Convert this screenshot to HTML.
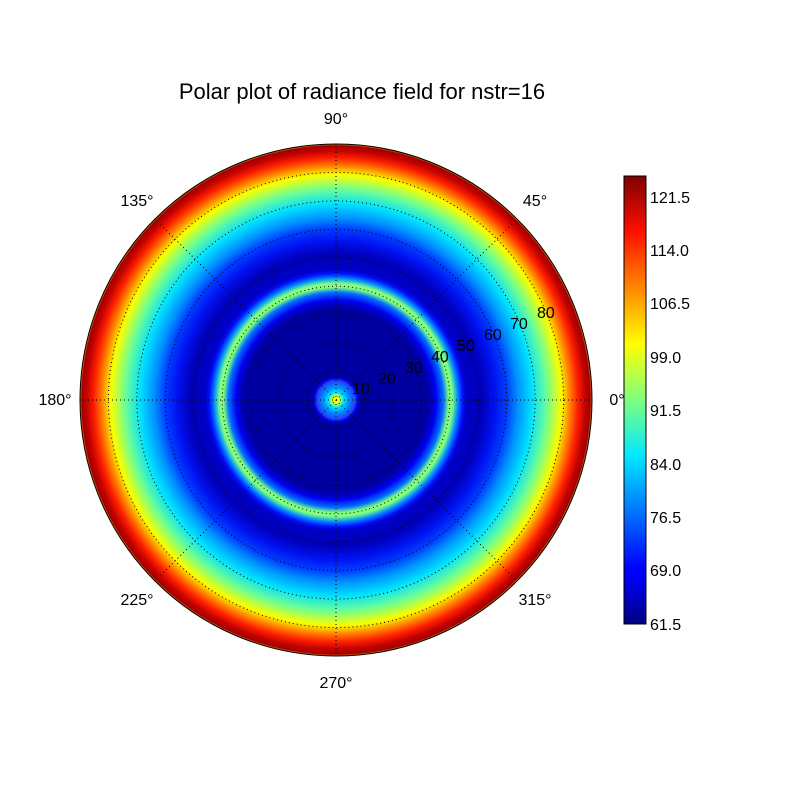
<!DOCTYPE html>
<html><head><style>body{margin:0;background:#fff}svg text{font-family:"Liberation Sans","DejaVu Sans",sans-serif}</style></head>
<body>
<svg width="800" height="800" viewBox="0 0 800 800" xmlns="http://www.w3.org/2000/svg">
<defs>
<radialGradient id="rg" cx="336" cy="400" r="256" gradientUnits="userSpaceOnUse">
<stop offset="0" stop-color="#ffff00"/>
<stop offset="0.012" stop-color="#f0ff10"/>
<stop offset="0.022" stop-color="#60ff90"/>
<stop offset="0.03" stop-color="#00e0ff"/>
<stop offset="0.05" stop-color="#0090ff"/>
<stop offset="0.075" stop-color="#2040ff"/>
<stop offset="0.085" stop-color="#0000e0"/>
<stop offset="0.095" stop-color="#0000a0"/>
<stop offset="0.36" stop-color="#0000a0"/>
<stop offset="0.39" stop-color="#0000f0"/>
<stop offset="0.42" stop-color="#0070ff"/>
<stop offset="0.44" stop-color="#80ff80"/>
<stop offset="0.455" stop-color="#80ff80"/>
<stop offset="0.475" stop-color="#0090ff"/>
<stop offset="0.495" stop-color="#0010ff"/>
<stop offset="0.51" stop-color="#0000c8"/>
<stop offset="0.57" stop-color="#0000b8"/>
<stop offset="0.62" stop-color="#0010f0"/>
<stop offset="0.67" stop-color="#0040ff"/>
<stop offset="0.71" stop-color="#0090ff"/>
<stop offset="0.765" stop-color="#00e0ff"/>
<stop offset="0.825" stop-color="#70ff90"/>
<stop offset="0.88" stop-color="#f8ff00"/>
<stop offset="0.91" stop-color="#ff9000"/>
<stop offset="0.945" stop-color="#ff2000"/>
<stop offset="0.975" stop-color="#c00000"/>
<stop offset="0.993" stop-color="#a00000"/>
<stop offset="1" stop-color="#ff9000"/>
</radialGradient>
<linearGradient id="cb" x1="0" y1="1" x2="0" y2="0">
<stop offset="0" stop-color="#00007f"/>
<stop offset="0.11" stop-color="#0000ff"/>
<stop offset="0.125" stop-color="#0000ff"/>
<stop offset="0.375" stop-color="#00e8ff"/>
<stop offset="0.5" stop-color="#7fff7f"/>
<stop offset="0.625" stop-color="#ffff00"/>
<stop offset="0.875" stop-color="#ff1000"/>
<stop offset="1" stop-color="#7f0000"/>
</linearGradient>
</defs>
<text x="362" y="99" font-size="22" text-anchor="middle">Polar plot of radiance field for nstr=16</text>
<circle cx="336" cy="400" r="256" fill="url(#rg)" stroke="#000" stroke-width="1"/>
<g fill="none" stroke="#000" stroke-width="1" stroke-dasharray="1,3">
<circle cx="336" cy="400" r="28.4"/><circle cx="336" cy="400" r="56.9"/><circle cx="336" cy="400" r="85.3"/><circle cx="336" cy="400" r="113.8"/><circle cx="336" cy="400" r="142.2"/><circle cx="336" cy="400" r="170.7"/><circle cx="336" cy="400" r="199.1"/><circle cx="336" cy="400" r="227.6"/>
<line x1="80" y1="400" x2="592" y2="400"/><line x1="336" y1="144" x2="336" y2="656"/>
<line x1="155" y1="219" x2="517" y2="581"/><line x1="155" y1="581" x2="517" y2="219"/>
</g>
<g font-size="16" text-anchor="middle">
<text x="336" y="124">90°</text><text x="535" y="206">45°</text><text x="137" y="206">135°</text>
<text x="55" y="405">180°</text><text x="617" y="405">0°</text>
<text x="137" y="605">225°</text><text x="535" y="605">315°</text><text x="336" y="688">270°</text>
</g>
<g font-size="16">
<text x="352" y="394">10</text><text x="378" y="384">20</text><text x="405" y="373">30</text><text x="431" y="362">40</text><text x="457" y="351">50</text><text x="484" y="340">60</text><text x="510" y="329">70</text><text x="537" y="318">80</text>
</g>
<rect x="624" y="176" width="22" height="448" fill="url(#cb)" stroke="#000"/>
<g font-size="16">
<text x="650" y="203">121.5</text><text x="650" y="256">114.0</text><text x="650" y="309">106.5</text><text x="650" y="363">99.0</text><text x="650" y="416">91.5</text><text x="650" y="470">84.0</text><text x="650" y="523">76.5</text><text x="650" y="576">69.0</text><text x="650" y="630">61.5</text>
</g>
</svg>
</body></html>
